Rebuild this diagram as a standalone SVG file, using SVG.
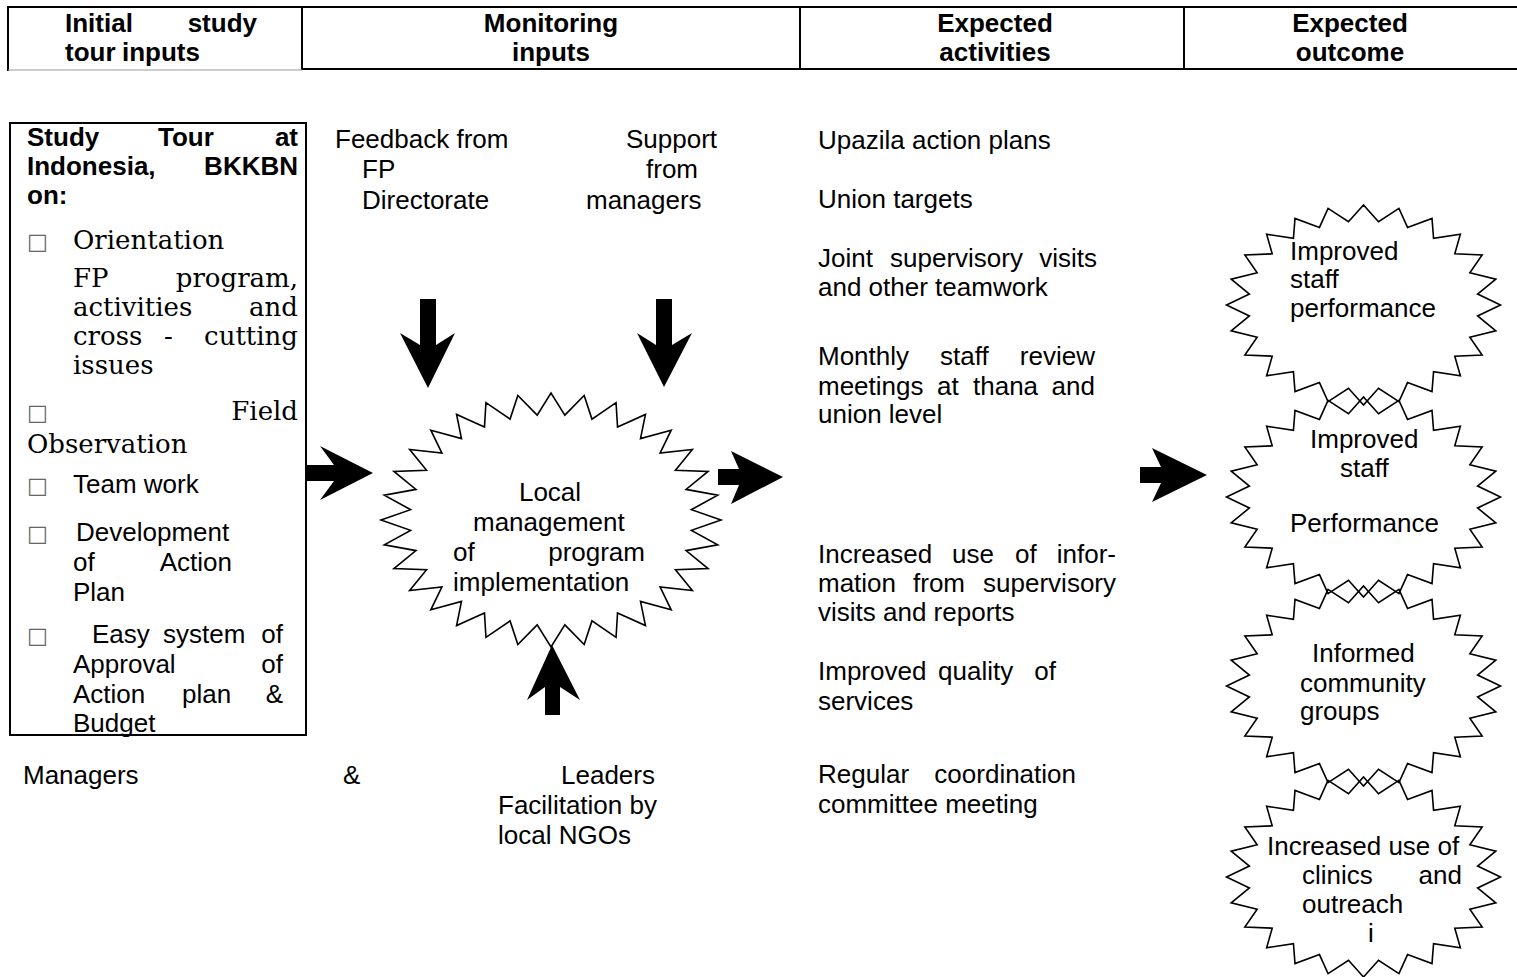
<svg xmlns="http://www.w3.org/2000/svg" width="1517" height="977" viewBox="0 0 1517 977">
<style>
text{font-family:"Liberation Sans",Arial,sans-serif;font-size:26px;fill:#000}
.b{font-weight:bold}
.s{font-family:"DejaVu Serif","Liberation Serif",serif;font-size:26px}
.r{text-anchor:end}
.c{text-anchor:middle}
.cb{font-family:"DejaVu Sans",sans-serif;font-size:22px;fill:#666}
.line{stroke:#000;stroke-width:2;fill:none}
.star{fill:none;stroke:#000;stroke-width:1.6;vector-effect:non-scaling-stroke}
.arrow{fill:#000;stroke:none}
</style>
<defs>
<polygon id="s24" class="star" points="100,0 83.28,10.96 96.59,25.88 77.61,32.15 86.6,50 66.64,51.14 70.71,70.71 51.14,66.64 50,86.6 32.15,77.61 25.88,96.59 10.96,83.28 0,100 -10.96,83.28 -25.88,96.59 -32.15,77.61 -50,86.6 -51.14,66.64 -70.71,70.71 -66.64,51.14 -86.6,50 -77.61,32.15 -96.59,25.88 -83.28,10.96 -100,0 -83.28,-10.96 -96.59,-25.88 -77.61,-32.15 -86.6,-50 -66.64,-51.14 -70.71,-70.71 -51.14,-66.64 -50,-86.6 -32.15,-77.61 -25.88,-96.59 -10.96,-83.28 0,-100 10.96,-83.28 25.88,-96.59 32.15,-77.61 50,-86.6 51.14,-66.64 70.71,-70.71 66.64,-51.14 86.6,-50 77.61,-32.15 96.59,-25.88 83.28,-10.96"/>
</defs>

<g id="header">
<line class="line" x1="7" y1="7" x2="1517" y2="7"/>
<line class="line" x1="8" y1="7" x2="8" y2="71"/>
<line class="line" x1="302" y1="7" x2="302" y2="70"/>
<line class="line" x1="800" y1="7" x2="800" y2="70"/>
<line class="line" x1="1184" y1="7" x2="1184" y2="70"/>
<line class="line" x1="302" y1="69" x2="1517" y2="69"/>
<line x1="8" y1="70" x2="302" y2="70" stroke="#999" stroke-width="1"/>
<text class="b" x="65" y="32">Initial</text><text class="b r" x="257" y="32">study</text>
<text class="b" x="65" y="61">tour</text><text class="b" x="122" y="61">inputs</text>
<text class="b c" x="551" y="32">Monitoring</text><text class="b c" x="551" y="61">inputs</text>
<text class="b c" x="995" y="32">Expected</text><text class="b c" x="995" y="61">activities</text>
<text class="b c" x="1350" y="32">Expected</text><text class="b c" x="1350" y="61">outcome</text>
</g>

<g id="study-tour">
<rect x="10" y="123" width="296" height="612" fill="none" stroke="#000" stroke-width="2"/>
<text class="b" x="27" y="146">Study</text><text class="b" x="158" y="146">Tour</text><text class="b r" x="298" y="146">at</text>
<text class="b" x="27" y="175">Indonesia,</text><text class="b r" x="298" y="175">BKKBN</text>
<text class="b" x="27" y="204">on:</text>
<text class="cb" x="27" y="249">□</text><text class="s" x="73" y="249">Orientation</text>
<text class="s" x="73" y="287">FP</text><text class="s r" x="298" y="287">program,</text>
<text class="s" x="73" y="316">activities</text><text class="s r" x="298" y="316">and</text>
<text class="s" x="73" y="345">cross</text><text class="s" x="164" y="345">-</text><text class="s r" x="298" y="345">cutting</text>
<text class="s" x="73" y="374">issues</text>
<text class="cb" x="27" y="420">□</text><text class="s r" x="298" y="420">Field</text>
<text class="s" x="27" y="453">Observation</text>
<text class="cb" x="27" y="493">□</text><text x="73" y="493">Team work</text>
<text class="cb" x="27" y="541">□</text><text x="76" y="541">Development</text>
<text x="73" y="571">of</text><text class="r" x="232" y="571">Action</text>
<text x="73" y="601">Plan</text>
<text class="cb" x="27" y="643">□</text><text x="92" y="643">Easy</text><text x="163" y="643">system</text><text class="r" x="283" y="643">of</text>
<text x="73" y="673">Approval</text><text class="r" x="283" y="673">of</text>
<text x="73" y="703">Action</text><text x="182" y="703">plan</text><text class="r" x="283" y="703">&amp;</text>
<text x="73" y="732">Budget</text>
</g>

<g id="feedback">
<text x="335" y="148">Feedback from</text>
<text x="362" y="178">FP</text>
<text x="362" y="209">Directorate</text>
</g>
<g id="support">
<text x="626" y="148">Support</text>
<text x="646" y="178">from</text>
<text x="586" y="209">managers</text>
</g>

<g id="local-management">
<polygon class="star" points="100,0 82.6,8.14 98.08,19.51 79.43,24.09 92.39,38.27 73.2,39.13 83.15,55.56 64.16,52.65 70.71,70.71 52.65,64.16 55.56,83.15 39.13,73.2 38.27,92.39 24.09,79.43 19.51,98.08 8.14,82.6 0,100 -8.14,82.6 -19.51,98.08 -24.09,79.43 -38.27,92.39 -39.13,73.2 -55.56,83.15 -52.65,64.16 -70.71,70.71 -64.16,52.65 -83.15,55.56 -73.2,39.13 -92.39,38.27 -79.43,24.09 -98.08,19.51 -82.6,8.14 -100,0 -82.6,-8.14 -98.08,-19.51 -79.43,-24.09 -92.39,-38.27 -73.2,-39.13 -83.15,-55.56 -64.16,-52.65 -70.71,-70.71 -52.65,-64.16 -55.56,-83.15 -39.13,-73.2 -38.27,-92.39 -24.09,-79.43 -19.51,-98.08 -8.14,-82.6 0,-100 8.14,-82.6 19.51,-98.08 24.09,-79.43 38.27,-92.39 39.13,-73.2 55.56,-83.15 52.65,-64.16 70.71,-70.71 64.16,-52.65 83.15,-55.56 73.2,-39.13 92.39,-38.27 79.43,-24.09 98.08,-19.51 82.6,-8.14" transform="translate(551,520) scale(1.7,1.27)"/>
<text class="c" x="550" y="501">Local</text>
<text x="473" y="531">management</text>
<text x="453" y="561">of</text><text class="r" x="645" y="561">program</text>
<text x="453" y="591">implementation</text>
</g>

<g id="leaders">
<text x="23" y="784">Managers</text>
<text x="343" y="784">&amp;</text>
<text class="r" x="655" y="784">Leaders</text>
<text x="498" y="814">Facilitation by</text>
<text x="498" y="844">local NGOs</text>
</g>

<g id="activities">
<text x="818" y="149">Upazila action plans</text>
<text x="818" y="208">Union targets</text>
<text x="818" y="267">Joint</text><text x="890" y="267">supervisory</text><text class="r" x="1097" y="267">visits</text>
<text x="818" y="296">and other teamwork</text>
<text x="818" y="365">Monthly</text><text x="940" y="365">staff</text><text class="r" x="1095" y="365">review</text>
<text x="818" y="395">meetings</text><text x="937" y="395">at</text><text x="973" y="395">thana</text><text class="r" x="1095" y="395">and</text>
<text x="818" y="423">union level</text>
<text x="818" y="563">Increased</text><text x="952" y="563">use</text><text x="1015" y="563">of</text><text class="r" x="1116" y="563">infor-</text>
<text x="818" y="592">mation</text><text x="913" y="592">from</text><text class="r" x="1116" y="592">supervisory</text>
<text x="818" y="621">visits and reports</text>
<text x="818" y="680">Improved</text><text x="938" y="680">quality</text><text class="r" x="1056" y="680">of</text>
<text x="818" y="710">services</text>
<text x="818" y="783">Regular</text><text class="r" x="1076" y="783">coordination</text>
<text x="818" y="813">committee meeting</text>
</g>

<g id="outcome-1">
<use href="#s24" transform="translate(1363.5,305) scale(1.37,1)"/>
<text x="1290" y="260">Improved</text>
<text x="1290" y="288">staff</text>
<text x="1290" y="317">performance</text>
</g>
<g id="outcome-2">
<use href="#s24" transform="translate(1363.5,497) scale(1.37,1)"/>
<text x="1310" y="448">Improved</text>
<text x="1340" y="477">staff</text>
<text x="1290" y="532">Performance</text>
</g>
<g id="outcome-3">
<use href="#s24" transform="translate(1363.5,686) scale(1.37,1)"/>
<text x="1312" y="662">Informed</text>
<text x="1300" y="692">community</text>
<text x="1300" y="720">groups</text>
</g>
<g id="outcome-4">
<use href="#s24" transform="translate(1363.5,877) scale(1.37,1)"/>
<text x="1267" y="855">Increased use of</text>
<text x="1302" y="884">clinics</text><text class="r" x="1462" y="884">and</text>
<text x="1302" y="913">outreach</text>
<text x="1368" y="942">i</text>
</g>

<g id="connectors">
<polygon class="arrow" points="420,299 436,299 436,345 455,333 428,388 400,333 420,345"/>
<polygon class="arrow" points="656,299 672,299 672,345 692,333 664,387 637,333 656,345"/>
<polygon class="arrow" points="307,465 334,465 320,446 373,473 320,500 334,481 307,481"/>
<polygon class="arrow" points="718,469 739,469 731,451 783,477 731,504 739,485 718,485"/>
<polygon class="arrow" points="1140,467 1161,467 1152,448 1207,475 1152,502 1161,483 1140,483"/>
<polygon class="arrow" points="552,645 580,700 560,687 560,715 545,715 545,687 527,700"/>
</g>
</svg>
